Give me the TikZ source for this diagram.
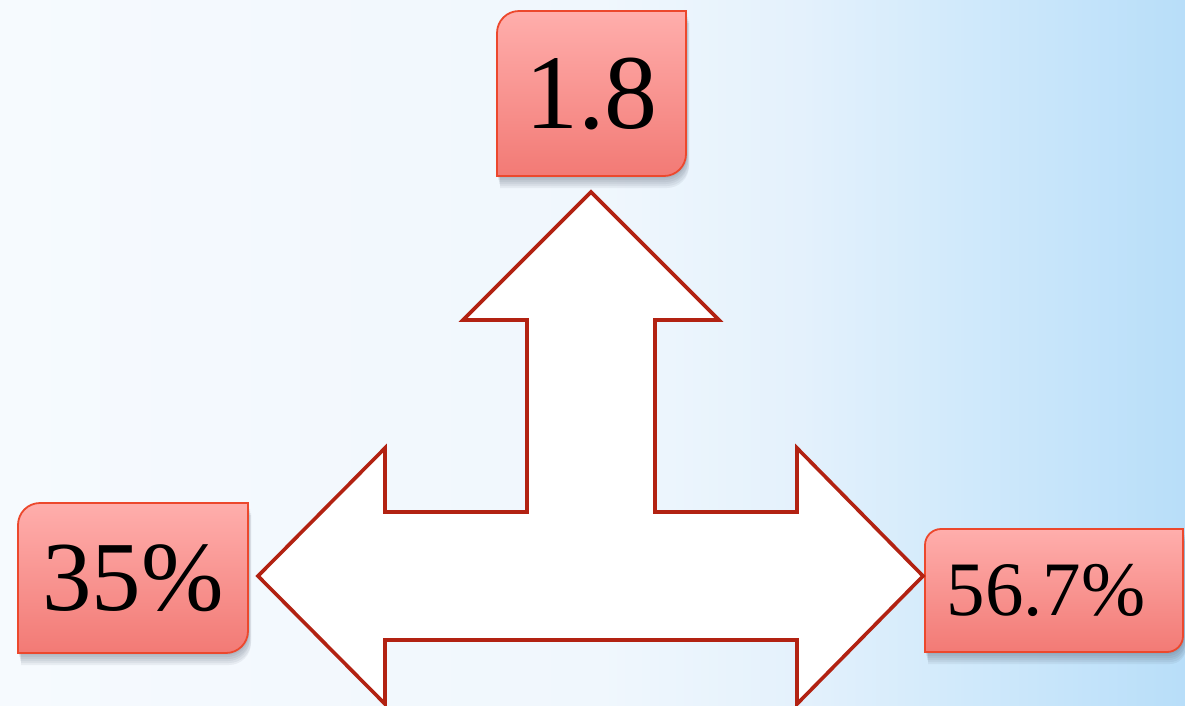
\documentclass[tikz,border=0pt]{standalone}
\usepackage{fontspec}
\setmainfont{Liberation Serif}
\pgfdeclarelayer{back}
\pgfdeclarelayer{shapes}
\pgfsetlayers{back,shapes,main}
\definecolor{bgA}{RGB}{246,250,254}
\definecolor{bgB}{RGB}{240,247,253}
\definecolor{bgC}{RGB}{228,241,252}
\definecolor{bgD}{RGB}{210,234,251}
\definecolor{bgE}{RGB}{184,222,249}
\definecolor{boxTop}{RGB}{255,174,172}
\definecolor{boxBot}{RGB}{242,122,117}
\definecolor{boxLine}{RGB}{236,72,45}
\definecolor{arrLine}{RGB}{178,34,18}
\definecolor{shadowCol}{RGB}{60,70,90}
\pgfdeclarehorizontalshading{bgshade}{100bp}{color(0bp)=(bgA); color(25bp)=(bgA); color(50.3bp)=(bgB); color(58.8bp)=(bgC); color(65.1bp)=(bgD); color(75bp)=(bgE); color(100bp)=(bgE)}
\tikzset{
  boxnode/.style={inner sep=0pt, outer sep=0pt},
  numtext/.style={inner sep=0pt, text=black},
  boxfill/.style={top color=boxTop, bottom color=boxBot, draw=boxLine, line width=1.8pt},
  shadowpath/.style={fill=shadowCol, fill opacity=0.07, draw=none},
  arrowshape/.style={fill=white, draw=arrLine, line width=3.6pt, line join=miter}
}
\begin{document}
\begin{tikzpicture}[x=1pt,y=-1pt]
\useasboundingbox (0,0) rectangle (1185,705);
\begin{pgfonlayer}{back}
  \shade[shading=bgshade] (0,0) rectangle (1185,705);
\end{pgfonlayer}

% box nodes
\node[boxnode, minimum width=189pt, minimum height=165pt] (v18) at (591.5,93.5) {};
\node[boxnode, minimum width=230pt, minimum height=150pt] (p35) at (133,578) {};
\node[boxnode, minimum width=258pt, minimum height=123pt] (p567) at (1054,590.5) {};

\begin{pgfonlayer}{shapes}
  \foreach \n/\r in {v18/22, p35/22, p567/16} {
    \foreach \dx/\dy in {1/2, 1/4, 2/6, 2/8, 3/10, 3/12} {
      \path[shadowpath] ([shift={(\dx pt,-\dy pt)}]\n.south west) [rounded corners=\r pt] -- ([shift={(\dx pt,-\dy pt)}]\n.north west) [sharp corners] -- ([shift={(\dx pt,-\dy pt)}]\n.north east) [rounded corners=\r pt] -- ([shift={(\dx pt,-\dy pt)}]\n.south east) [sharp corners] -- cycle;
    }
    \path[boxfill] (\n.south west) [rounded corners=\r pt] -- (\n.north west) [sharp corners] -- (\n.north east) [rounded corners=\r pt] -- (\n.south east) [sharp corners] -- cycle;
  }
  % three-way arrow
  \path[arrowshape] (591,192) -- (719,320) -- (655,320) -- (655,512) -- (797,512) -- (797,448)
    -- (923,576) -- (797,704) -- (797,640) -- (385,640) -- (385,704) -- (258,576)
    -- (385,448) -- (385,512) -- (527,512) -- (527,320) -- (463,320) -- cycle;
\end{pgfonlayer}

% texts
\node[numtext, font=\fontsize{106}{110}\selectfont] (t18) at (v18) {1.8};
\node[numtext, font=\fontsize{99}{104}\selectfont] (t35) at (p35) {35\%};
\node[numtext, font=\fontsize{77}{82}\selectfont] (t567) at ([xshift=-8pt]p567.center) {56.7\%};
\end{tikzpicture}
\end{document}
